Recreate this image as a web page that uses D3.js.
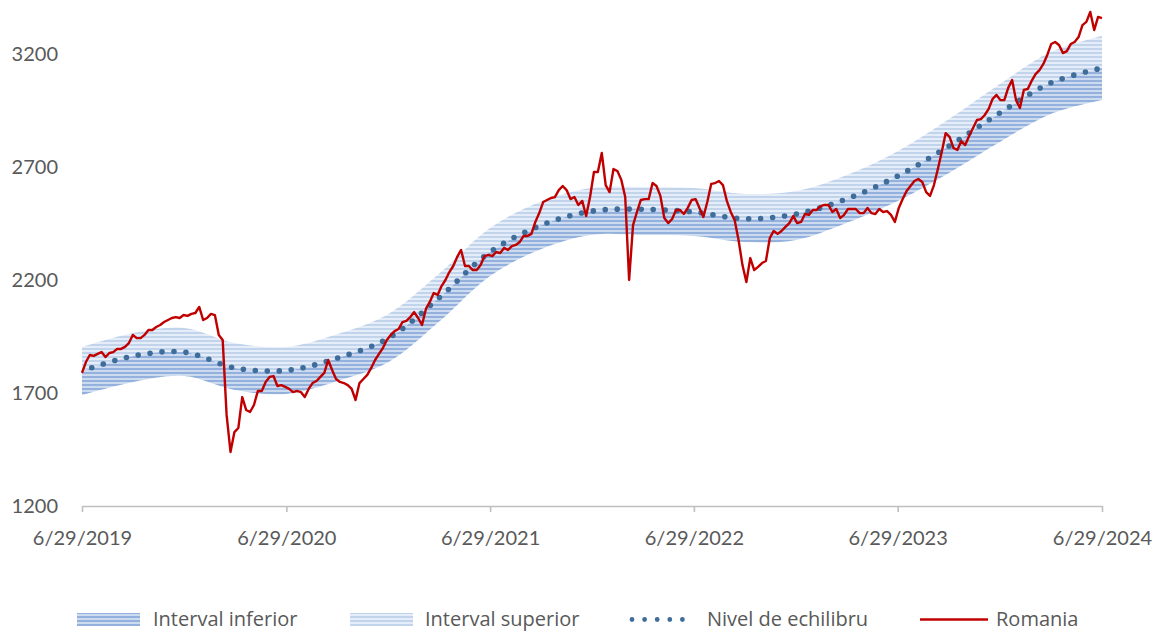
<!DOCTYPE html>
<html>
<head>
<meta charset="utf-8">
<script src="https://cdn.jsdelivr.net/npm/d3@7"></script>
<style>
  html, body { margin: 0; padding: 0; background: #ffffff; }
  svg { display: block; font-family: Lato, "Open Sans", sans-serif; }
</style>
</head>
<body>
<svg id="chart" width="1164" height="635"></svg>
<script>
// Equilibrium band, quarterly estimates
const bandDates = ["2019-06-29","2019-09-29","2019-12-29","2020-03-29","2020-06-29","2020-09-29",
  "2020-12-29","2021-03-29","2021-06-29","2021-09-29","2021-12-29","2022-03-29","2022-06-29",
  "2022-09-29","2022-12-29","2023-03-29","2023-06-29","2023-09-29","2023-12-29","2024-03-29","2024-06-29"];
const equilibrium = [1797,1864,1881,1811,1800,1855,1943,2120,2324,2443,2505,2513,2501,2471,2492,2558,2660,2793,2939,3072,3138];
const upperBound  = [1904,1966,1988,1921,1904,1961,2050,2226,2430,2549,2608,2612,2607,2581,2594,2664,2770,2912,3067,3209,3280];
const lowerBound  = [1691,1749,1775,1713,1696,1753,1837,2014,2218,2337,2400,2399,2395,2368,2377,2452,2550,2674,2811,2935,2997];

// Romania index, weekly closes starting 6/29/2019
const romaniaStart = "2019-06-29";
const romania = [
  1789,1837,1868,1864,1873,1881,1859,1877,1881,1895,1895,1904,1921,1957,1943,1943,1957,1979,1979,1992,
  2001,2014,2023,2032,2036,2032,2045,2041,2050,2054,2081,2023,2032,2050,2045,1957,1935,1603,1439,1527,
  1545,1682,1625,1616,1647,1709,1709,1749,1771,1775,1731,1735,1727,1718,1704,1709,1704,1682,1718,1744,
  1753,1771,1789,1846,1802,1762,1749,1744,1735,1718,1669,1744,1762,1780,1811,1846,1873,1899,1935,1957,
  1974,1983,2014,2019,2036,2058,2032,2001,2072,2103,2142,2134,2173,2200,2235,2262,2302,2333,2262,2262,
  2244,2244,2266,2306,2311,2306,2324,2319,2342,2333,2350,2355,2368,2395,2395,2404,2457,2496,2545,2554,
  2563,2567,2598,2616,2598,2558,2567,2532,2550,2483,2567,2678,2678,2762,2620,2589,2691,2682,2643,2567,
  2200,2443,2501,2554,2558,2558,2629,2616,2572,2474,2452,2470,2510,2510,2492,2519,2554,2558,2519,2479,
  2545,2625,2629,2638,2620,2550,2501,2465,2377,2266,2191,2297,2244,2258,2275,2284,2386,2417,2404,2417,
  2435,2452,2483,2452,2457,2492,2488,2510,2510,2527,2532,2532,2501,2514,2474,2488,2514,2514,2514,2496,
  2496,2519,2496,2492,2514,2501,2505,2488,2457,2519,2558,2594,2616,2638,2647,2634,2589,2572,2620,2691,
  2766,2850,2833,2784,2775,2815,2797,2837,2873,2908,2912,2930,2957,3001,3019,2996,2996,3050,3085,2996,
  2961,3041,3045,3081,3111,3129,3156,3196,3244,3253,3240,3204,3213,3244,3253,3275,3328,3342,3386,3306,
  3364,3359
];

// Axis ticks
const yTicks = [1200, 1700, 2200, 2700, 3200];
const xTickDates = ["2019-06-29","2020-06-29","2021-06-29","2022-06-29","2023-06-29","2024-06-29"];

// Legend labels
const legendLabels = ["Interval inferior", "Interval superior", "Nivel de echilibru", "Romania"];

const parse = d3.timeParse("%Y-%m-%d");
const svg = d3.select("#chart");

const x = d3.scaleTime()
  .domain([parse("2019-06-29"), parse("2024-06-29")])
  .range([82, 1102]);
const y = d3.scaleLinear()
  .domain([1200, 3400])
  .range([506, 8.8]);

const band = bandDates.map((d, i) => ({
  date: parse(d), mid: equilibrium[i], hi: upperBound[i], lo: lowerBound[i]
}));
const start = parse(romaniaStart);
const series = romania.map((v, i) => ({ date: d3.timeDay.offset(start, 7 * i), value: v }));

// Striped fills for the two halves of the band
const defs = svg.append("defs");
function stripes(id, bg, fg) {
  const p = defs.append("pattern")
    .attr("id", id)
    .attr("patternUnits", "userSpaceOnUse")
    .attr("width", 8).attr("height", 4);
  p.append("rect").attr("width", 8).attr("height", 4).attr("fill", bg);
  p.append("rect").attr("width", 8).attr("height", 2).attr("fill", fg);
}
stripes("stripeLow", "#cddbf0", "#93b1dc");
stripes("stripeHigh", "#e5edf8", "#c2d3ec");

const curve = d3.curveCatmullRom.alpha(0.5);

svg.append("path")
  .datum(band)
  .attr("fill", "url(#stripeLow)")
  .attr("d", d3.area().curve(curve)
    .x(d => x(d.date)).y0(d => y(d.lo)).y1(d => y(d.mid)));

svg.append("path")
  .datum(band)
  .attr("fill", "url(#stripeHigh)")
  .attr("d", d3.area().curve(curve)
    .x(d => x(d.date)).y0(d => y(d.mid)).y1(d => y(d.hi)));

// Equilibrium level as a round-dot line
svg.append("path")
  .datum(band)
  .attr("fill", "none")
  .attr("stroke", "#3f6d9a")
  .attr("stroke-width", 5.6)
  .attr("stroke-linecap", "round")
  .attr("stroke-dasharray", "0 12")
  .attr("stroke-dashoffset", 1.5)
  .attr("d", d3.line().curve(curve).x(d => x(d.date)).y(d => y(d.mid)));

// Romania
svg.append("path")
  .datum(series)
  .attr("fill", "none")
  .attr("stroke", "#c00000")
  .attr("stroke-width", 2.4)
  .attr("stroke-linejoin", "round")
  .attr("d", d3.line().x(d => x(d.date)).y(d => y(d.value)));

// Y axis labels
const yAxis = svg.append("g")
  .attr("transform", "translate(82,0)")
  .call(d3.axisLeft(y).tickValues(yTicks).tickSize(0).tickPadding(24).tickFormat(d3.format("d")));
yAxis.select(".domain").remove();
yAxis.selectAll("text").attr("fill", "#595959").style("font-size", "20px").style("font-family", "Lato, 'Open Sans', sans-serif");

// X axis
const xAxis = svg.append("g")
  .attr("transform", "translate(0,506)")
  .call(d3.axisBottom(x)
    .tickValues(xTickDates.map(parse))
    .tickSizeInner(6).tickSizeOuter(0).tickPadding(19)
    .tickFormat(d3.timeFormat("%-m/%-d/%Y")));
xAxis.select(".domain").attr("stroke", "#bfbfbf").attr("stroke-width", 1.6);
xAxis.selectAll(".tick line").attr("stroke", "#bfbfbf").attr("stroke-width", 1.6);
xAxis.selectAll("text").attr("fill", "#595959").style("font-size", "20px").style("font-family", "Lato, 'Open Sans', sans-serif");

// Legend
const lg = svg.append("g");
const swatchY = 613, swatchH = 13, textY = 626;
lg.append("rect").attr("x", 77).attr("y", swatchY).attr("width", 63).attr("height", swatchH).attr("fill", "url(#stripeLow)");
lg.append("rect").attr("x", 350).attr("y", swatchY).attr("width", 63).attr("height", swatchH).attr("fill", "url(#stripeHigh)");
lg.append("line").attr("x1", 632).attr("x2", 695).attr("y1", 619.5).attr("y2", 619.5)
  .attr("stroke", "#3f6d9a").attr("stroke-width", 4.8).attr("stroke-linecap", "round")
  .attr("stroke-dasharray", "0 12.6");
lg.append("line").attr("x1", 920).attr("x2", 988).attr("y1", 619.5).attr("y2", 619.5)
  .attr("stroke", "#c00000").attr("stroke-width", 2.6);

const legendX = [153, 425, 707, 996];
lg.selectAll("text.lbl")
  .data(legendLabels)
  .enter().append("text")
  .attr("class", "lbl")
  .attr("x", (d, i) => legendX[i])
  .attr("y", textY)
  .attr("fill", "#595959")
  .style("font-family", "'Open Sans', Lato, sans-serif")
  .style("font-size", "20px")
  .text(d => d);
</script>
</body>
</html>
